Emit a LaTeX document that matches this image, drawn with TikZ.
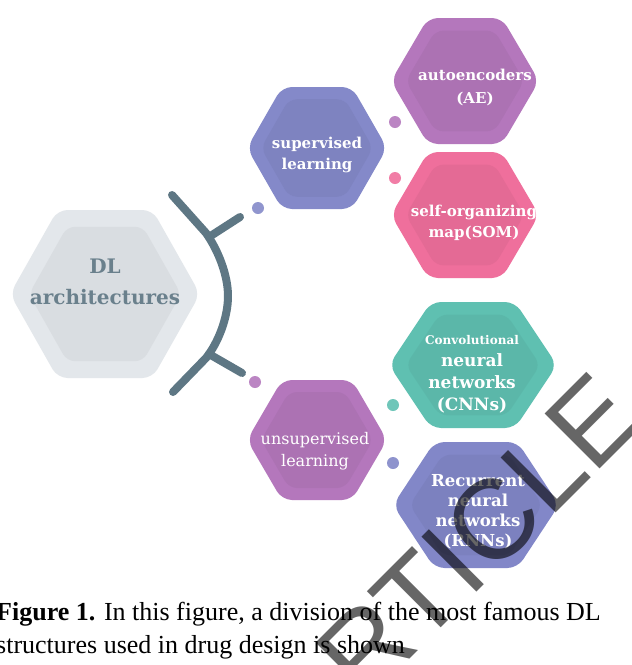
\documentclass[tikz,border=0pt]{standalone}
\usepackage{fontspec}
\setmainfont{Liberation Serif}
\newfontfamily\hexfont{DejaVu Serif}
\newfontfamily\wmfont{Liberation Sans}
\definecolor{dlcol}{HTML}{E3E7EB}
\definecolor{dltext}{HTML}{6A808C}
\definecolor{bracecol}{HTML}{5E7784}
\definecolor{supcol}{HTML}{8489C9}
\definecolor{aecol}{HTML}{B477BC}
\definecolor{somcol}{HTML}{EF6F9C}
\definecolor{cnncol}{HTML}{5FC0B1}
\definecolor{unscol}{HTML}{B477BC}
\definecolor{rnncol}{HTML}{8287C8}
\newcommand\hexshape[5]{%
  \fill[#5, rounded corners=10pt] (#1-#3,#2) -- (#1-#3/2,#2-#4) -- (#1+#3/2,#2-#4) -- (#1+#3,#2) -- (#1+#3/2,#2+#4) -- (#1-#3/2,#2+#4) -- cycle;
  \fill[#5!88!black, opacity=0.35, rounded corners=8pt] (#1-0.8*#3,#2) -- (#1-0.4*#3,#2-0.8*#4) -- (#1+0.4*#3,#2-0.8*#4) -- (#1+0.8*#3,#2) -- (#1+0.4*#3,#2+0.8*#4) -- (#1-0.4*#3,#2+0.8*#4) -- cycle;
}
\begin{document}
\begin{tikzpicture}[x=1pt,y=-1pt,
  lbl/.style={font=\hexfont\bfseries, text=white, align=center, inner sep=0pt},
  dotn/.style={circle, inner sep=0pt, minimum size=12pt},
  brace/.style={draw=bracecol, line width=8pt, line cap=round, line join=round},
  captext/.style={font=\fontsize{26}{33}\selectfont, inner sep=0pt, anchor=base west},
  wm/.style={font=\wmfont\fontsize{113}{113}\selectfont, text=black, text opacity=0.6, inner sep=0pt, anchor=base west, rotate=45}]
\useasboundingbox[fill=white] (0,0) rectangle (632,665);

% hexagons
\hexshape{105}{294}{95}{84}{dlcol}
\hexshape{317}{148}{70}{61}{supcol}
\hexshape{465}{81}{74}{63}{aecol}
\hexshape{465}{215}{74}{63}{somcol}
\hexshape{473}{365}{84}{63}{cnncol}
\hexshape{317}{440}{70}{60}{unscol}
\hexshape{476}{505}{83}{63}{rnncol}

% bracket
\draw[brace] (172,195) -- (206,233) .. controls (218,250) and (228,275) .. (228,296)
  .. controls (228,318) and (218,343) .. (206,358) -- (173,392);
\coordinate (j1) at (209,237);
\coordinate (j2) at (209,354);
\coordinate (a1) at (240,217);
\coordinate (a2) at (242,373);
\draw[brace] (j1) -- (a1);
\draw[brace] (j2) -- (a2);

% dots
\node[dotn, fill=supcol!90!white] (d1) at (258,208) {};
\node[dotn, fill=unscol!90!white] (d2) at (255,382) {};
\node[dotn, fill=aecol!90!white] (d3) at (395,122) {};
\node[dotn, fill=somcol!90!white] (d4) at (395,178) {};
\node[dotn, fill=cnncol!90!white] (d5) at (393,405) {};
\node[dotn, fill=rnncol!90!white] (d6) at (393,463) {};

% labels
\node[lbl, text=dltext, font=\hexfont\bfseries\fontsize{20}{31}\selectfont] (dl) at (105,282) {DL\\architectures};
\node[lbl, font=\hexfont\bfseries\fontsize{15}{21}\selectfont] (sup) at (317,155) {supervised\\learning};
\node[lbl, font=\hexfont\bfseries\fontsize{15}{23}\selectfont] (ae) at (475,87) {autoencoders\\(AE)};
\node[lbl, font=\hexfont\bfseries\fontsize{15}{21}\selectfont] (som) at (474,223) {self-organizing\\map(SOM)};
\node[lbl, font=\hexfont\bfseries\fontsize{17}{22}\selectfont] (cnn) at (472,374) {{\fontsize{12}{22}\selectfont Convolutional}\\neural\\networks\\(CNNs)};
\node[lbl, font=\hexfont\fontsize{16}{22}\selectfont] (uns) at (315,451) {unsupervised\\learning};
\node[lbl, font=\hexfont\bfseries\fontsize{16.5}{20}\selectfont] (rnn) at (478,512) {Recurrent\\neural\\networks\\(RNNs)};

% caption
\node[captext] (cap1) at (-4,620) {\textbf{Figure 1.} In this figure, a division of the most famous DL};
\node[captext] (cap2) at (-4,653) {structures used in drug design is shown};

% watermark
\node[wm] (wmark) at (311,758) {ARTICLE};
\end{tikzpicture}
\end{document}
